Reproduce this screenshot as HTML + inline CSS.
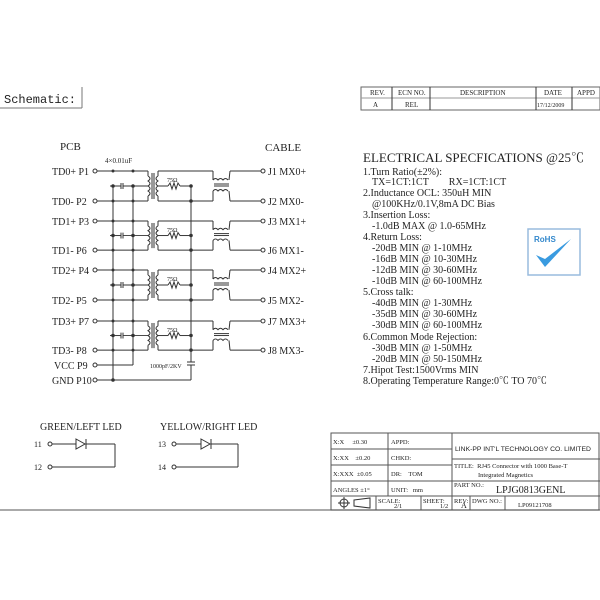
<!DOCTYPE html>
<html><head><meta charset="utf-8"><style>
body{margin:0;background:#fff}
svg{display:block}
text{font-family:"Liberation Serif","Noto Serif CJK SC",serif;fill:#222}
.s{font-size:9px}
.m{font-size:10px}
</style></head><body>
<svg width="600" height="600" viewBox="0 0 600 600" xmlns="http://www.w3.org/2000/svg">
<g stroke="#333" fill="none" stroke-width="1">
<line x1="0" y1="108" x2="82" y2="108" stroke="#777"/>
<line x1="82" y1="87" x2="82" y2="108" stroke="#777"/>
<rect x="361" y="87" width="239" height="23" stroke="#666"/>
<line x1="361" y1="98" x2="600" y2="98" stroke="#999"/>
<line x1="392" y1="87" x2="392" y2="110"/><line x1="430" y1="87" x2="430" y2="110"/>
<line x1="536" y1="87" x2="536" y2="110"/><line x1="572" y1="87" x2="572" y2="110"/>
</g>
<text x="4" y="103" style="font-size:12px;font-family:'Liberation Mono',monospace">Schematic:</text>
<g class="s" style="font-size:7px">
<text x="370" y="95">REV.</text><text x="398" y="95">ECN NO.</text><text x="460" y="95">DESCRIPTION</text><text x="544" y="95">DATE</text><text x="577" y="95">APPD</text>
<text x="373" y="107">A</text><text x="405" y="107">REL</text><text x="537" y="107" style="font-size:6px">17/12/2009</text>
</g>

<text x="60" y="150" class="m" style="font-size:11px">PCB</text>
<text x="265" y="151" class="m" style="font-size:11px">CABLE</text>
<text x="105" y="163" style="font-size:7px">4×0.01uF</text>
<g class="m">
<text x="52" y="175">TD0+ P1</text><text x="52" y="205">TD0- P2</text>
<text x="52" y="225">TD1+ P3</text><text x="52" y="254">TD1- P6</text>
<text x="52" y="274">TD2+ P4</text><text x="52" y="304">TD2- P5</text>
<text x="52" y="325">TD3+ P7</text><text x="52" y="354">TD3- P8</text>
<text x="54" y="369">VCC P9</text><text x="52" y="384">GND P10</text>
<text x="268" y="175">J1 MX0+</text><text x="268" y="205">J2 MX0-</text>
<text x="268" y="225">J3 MX1+</text><text x="268" y="254">J6 MX1-</text>
<text x="268" y="274">J4 MX2+</text><text x="268" y="304">J5 MX2-</text>
<text x="268" y="325">J7 MX3+</text><text x="268" y="354">J8 MX3-</text>
</g>
<defs>
<g id="grp" stroke="#333" fill="none" stroke-width="1">
<circle cx="95" cy="0" r="2"/><circle cx="95" cy="30" r="2"/>
<line x1="97" y1="0" x2="148" y2="0"/><line x1="148" y1="0" x2="148" y2="5"/>
<line x1="97" y1="30" x2="148" y2="30"/><line x1="148" y1="30" x2="148" y2="25"/>
<path d="M148 5 q4 2.5 0 5 q4 2.5 0 5 q4 2.5 0 5 q4 2.5 0 5"/>
<line x1="152" y1="2" x2="152" y2="28"/><line x1="154" y1="2" x2="154" y2="28"/>
<path d="M158 5 q-4 2.5 0 5 q-4 2.5 0 5 q-4 2.5 0 5 q-4 2.5 0 5"/>
<line x1="158" y1="0" x2="158" y2="5"/><line x1="158" y1="25" x2="158" y2="30"/>
<line x1="110" y1="15" x2="121" y2="15"/><line x1="121" y1="12" x2="121" y2="18"/><line x1="123" y1="12" x2="123" y2="18"/>
<line x1="123" y1="15" x2="148" y2="15"/>
<line x1="158" y1="15" x2="168" y2="15"/>
<path d="M168 15 l2 -3 l2 6 l2 -6 l2 6 l2 -6 l2 3"/>
<line x1="180" y1="15" x2="191" y2="15"/>
<line x1="158" y1="30" x2="213" y2="30"/><line x1="158" y1="0" x2="213" y2="0"/>
<line x1="213" y1="0" x2="213" y2="9"/><line x1="213" y1="30" x2="213" y2="20"/>
<path d="M213 9 q2.5 -3 5 0 q2.5 -3 5 0 q2.5 -3 5 0"/>
<line x1="214" y1="13" x2="229" y2="13"/><line x1="214" y1="15" x2="229" y2="15"/>
<path d="M213 20 q2.5 -3 5 0 q2.5 -3 5 0 q2.5 -3 5 0"/>
<line x1="229" y1="9" x2="230" y2="0"/><line x1="230" y1="0" x2="261" y2="0"/>
<line x1="229" y1="20" x2="230" y2="30"/><line x1="230" y1="30" x2="261" y2="30"/>
<circle cx="263" cy="0" r="2"/><circle cx="263" cy="30" r="2"/>
<circle cx="113" cy="15" r="1.3" fill="#333"/><circle cx="133" cy="15" r="1.3" fill="#333"/>
<circle cx="191" cy="15" r="1.3" fill="#333"/><circle cx="191" cy="30" r="1.3" fill="#333"/>
<circle cx="113" cy="30" r="1" fill="#333"/><circle cx="133" cy="30" r="1" fill="#333"/>
<circle cx="113" cy="0" r="1" fill="#333"/><circle cx="133" cy="0" r="1" fill="#333"/>
</g>
</defs>
<use href="#grp" transform="translate(0,171)"/>
<use href="#grp" transform="translate(0,221) scale(1,0.97)"/>
<use href="#grp" transform="translate(0,270)"/>
<use href="#grp" transform="translate(0,321) scale(1,0.97)"/>
<g style="font-size:6px">
<text x="167" y="182">75Ω</text><text x="167" y="232">75Ω</text><text x="167" y="281">75Ω</text><text x="167" y="332">75Ω</text>
<text x="150" y="368">1000pF/2KV</text>
</g>
<g stroke="#333" fill="none">
<line x1="113" y1="186" x2="113" y2="380"/><line x1="133" y1="186" x2="133" y2="365"/>
<line x1="191" y1="186" x2="191" y2="362"/><line x1="187" y1="362" x2="195" y2="362"/><line x1="187" y1="365" x2="195" y2="365"/>
<line x1="191" y1="365" x2="191" y2="380"/>
<circle cx="95" cy="365" r="2"/><circle cx="95" cy="380" r="2"/>
<line x1="97" y1="365" x2="133" y2="365"/><line x1="97" y1="380" x2="191" y2="380"/>
<circle cx="113" cy="380" r="1.3" fill="#333"/>
</g>

<text x="363" y="162" style="font-size:13px">ELECTRICAL SPECFICATIONS @25℃</text>
<g class="m">
<text x="363" y="175">1.Turn Ratio(±2%):</text>
<text x="372" y="185">TX=1CT:1CT&#160;&#160;&#160;&#160;&#160;&#160;&#160;&#160;RX=1CT:1CT</text>
<text x="363" y="196">2.Inductance OCL: 350uH MIN</text>
<text x="372" y="207">@100KHz/0.1V,8mA DC Bias</text>
<text x="363" y="218">3.Insertion Loss:</text>
<text x="372" y="229">-1.0dB MAX @ 1.0-65MHz</text>
<text x="363" y="240">4.Return Loss:</text>
<text x="372" y="251">-20dB MIN @ 1-10MHz</text>
<text x="372" y="262">-16dB MIN @ 10-30MHz</text>
<text x="372" y="273">-12dB MIN @ 30-60MHz</text>
<text x="372" y="284">-10dB MIN @ 60-100MHz</text>
<text x="363" y="295">5.Cross talk:</text>
<text x="372" y="306">-40dB MIN @ 1-30MHz</text>
<text x="372" y="317">-35dB MIN @ 30-60MHz</text>
<text x="372" y="328">-30dB MIN @ 60-100MHz</text>
<text x="363" y="340">6.Common Mode Rejection:</text>
<text x="372" y="351">-30dB MIN @ 1-50MHz</text>
<text x="372" y="362">-20dB MIN @ 50-150MHz</text>
<text x="363" y="373">7.Hipot Test:1500Vrms MIN</text>
<text x="363" y="384">8.Operating Temperature Range:0℃ TO 70℃</text>
</g>
<rect x="528" y="229" width="52" height="46" fill="#fff" stroke="#9bd" stroke-width="1.5"/>
<text x="534" y="242" style="font-size:8px;font-weight:bold;fill:#38c;font-family:'Liberation Sans',sans-serif">RoHS</text>
<path d="M536 255 l9 12 l26 -28 l-26 20 z" fill="#3a9be0"/>

<g class="m"><text x="40" y="430">GREEN/LEFT LED</text><text x="160" y="430">YELLOW/RIGHT LED</text></g>
<g style="font-size:8px"><text x="34" y="447">11</text><text x="34" y="470">12</text><text x="158" y="447">13</text><text x="158" y="470">14</text></g>
<g stroke="#333" fill="none">
<circle cx="50" cy="444" r="2"/><circle cx="50" cy="467" r="2"/>
<line x1="52" y1="444" x2="76" y2="444"/><path d="M76 439 l9 5 l-9 5 z"/><line x1="86" y1="439" x2="86" y2="449"/>
<line x1="86" y1="444" x2="115" y2="444"/><line x1="115" y1="444" x2="115" y2="467"/><line x1="52" y1="467" x2="115" y2="467"/>
<circle cx="174" cy="444" r="2"/><circle cx="174" cy="467" r="2"/>
<line x1="176" y1="444" x2="201" y2="444"/><path d="M201 439 l9 5 l-9 5 z"/><line x1="211" y1="439" x2="211" y2="449"/>
<line x1="211" y1="444" x2="238" y2="444"/><line x1="238" y1="444" x2="238" y2="467"/><line x1="176" y1="467" x2="238" y2="467"/>
</g>

<g stroke="#555" fill="none">
<line x1="0" y1="510" x2="600" y2="510" stroke="#777" stroke-width="1.3"/>
<rect x="331" y="433" width="268" height="77"/>
<line x1="331" y1="449" x2="452" y2="449"/><line x1="331" y1="465" x2="452" y2="465"/>
<line x1="331" y1="481" x2="600" y2="481"/><line x1="331" y1="496" x2="600" y2="496"/>
<line x1="452" y1="459" x2="600" y2="459"/>
<line x1="388" y1="433" x2="388" y2="496"/><line x1="452" y1="433" x2="452" y2="510"/>
<line x1="376" y1="496" x2="376" y2="510"/><line x1="421" y1="496" x2="421" y2="510"/>
<line x1="470" y1="496" x2="470" y2="510"/><line x1="505" y1="496" x2="505" y2="510"/>
</g>
<g style="font-size:6.5px">
<text x="333" y="444">X:X&#160;&#160;&#160;&#160;&#160;±0.30</text><text x="391" y="444">APPD:</text>
<text x="333" y="460">X:XX&#160;&#160;&#160;&#160;±0.20</text><text x="391" y="460">CHKD:</text>
<text x="333" y="476">X:XXX&#160;&#160;±0.05</text><text x="391" y="476">DR:&#160;&#160;&#160;&#160;TOM</text>
<text x="333" y="492">ANGLES ±1°</text><text x="391" y="492">UNIT:&#160;&#160;&#160;mm</text>
<text x="378" y="503">SCALE:</text><text x="394" y="508">2/1</text>
<text x="423" y="503">SHEET:</text><text x="440" y="508">1/2</text>
<text x="454" y="503">REV:</text><text x="461" y="508" style="font-size:8px">A</text>
<text x="472" y="503">DWG NO.:</text><text x="518" y="507">LP09121708</text>
<text x="454" y="468">TITLE:&#160;&#160;RJ45 Connector with 1000 Base-T</text>
<text x="478" y="477">Integrated Magnetics</text>
<text x="454" y="487">PART NO.:</text>
</g>
<text x="455" y="451" style="font-size:6.8px;font-family:'Liberation Sans',sans-serif">LINK-PP INT'L TECHNOLOGY CO. LIMITED</text>
<text x="496" y="493" style="font-size:10px">LPJG0813GENL</text>
<g stroke="#333" fill="none">
<circle cx="344" cy="503" r="4"/><line x1="338" y1="503" x2="350" y2="503"/><line x1="344" y1="497" x2="344" y2="509"/>
<path d="M354 500 L370 498 L370 508 L354 506 Z"/>
</g>
</svg>
</body></html>
